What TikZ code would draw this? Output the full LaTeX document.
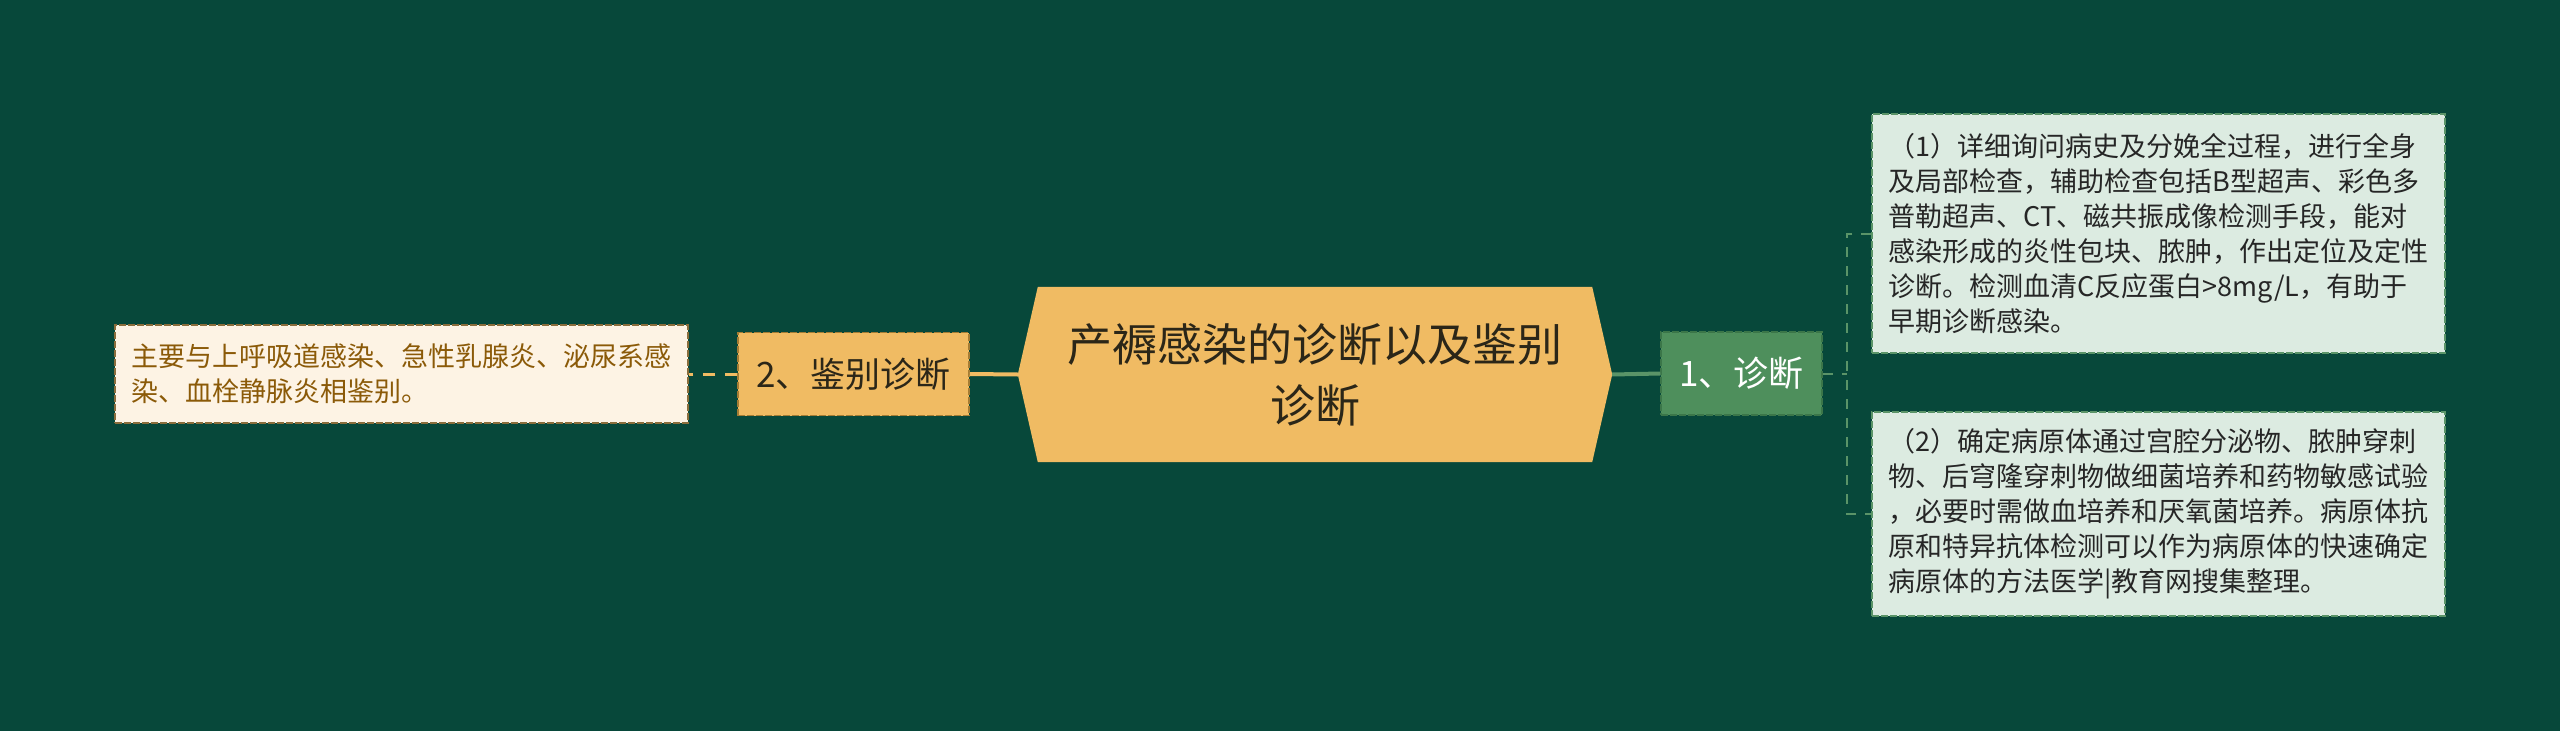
\documentclass[tikz,border=0pt]{standalone}
\usepackage{fontspec}
\setmainfont{Noto Sans CJK SC}
\usetikzlibrary{positioning,backgrounds}
\definecolor{bgcol}{HTML}{07483A}
\definecolor{titlefill}{HTML}{F0BB63}
\definecolor{titletext}{HTML}{2B2618}
\definecolor{diagfill}{HTML}{4E8F5C}
\definecolor{diagline}{HTML}{3B7649}
\definecolor{boxfill}{HTML}{DCEBE1}
\definecolor{boxline}{HTML}{5A9468}
\definecolor{leftfill}{HTML}{FDF3E4}
\definecolor{leftline}{HTML}{8A6D3B}
\definecolor{lefttext}{HTML}{8B5A08}
\definecolor{identline}{HTML}{A47C34}
\begin{document}
\begin{tikzpicture}[x=1pt,y=-1pt,
	every node/.style={inner sep=0pt},
	title/.style={minimum width=594pt, minimum height=175pt, align=center, text=titletext, font=\fontsize{45}{61}\selectfont},
	branch/.style={minimum height=83pt, line width=1.5pt, dash pattern=on 7pt off 2pt, font=\fontsize{35}{42}\selectfont},
	leaf/.style={minimum width=573pt, inner xsep=15pt, align=left, line width=1.5pt, dash pattern=on 7pt off 2pt, font=\fontsize{27}{35}\selectfont},
	greenlink/.style={draw=boxline, line width=2pt},
	orangelink/.style={draw=titlefill, line width=3pt}
	]
	\useasboundingbox (0,0) rectangle (2560,731);
	\begin{scope}[on background layer]
		\fill[bgcol] (0,0) rectangle (2560,731);
	\end{scope}
	% centre
	\node [title] (title) at (1315,374.5) {产褥感染的诊断以及鉴别\\诊断};
	\begin{scope}[on background layer]
		\fill[titlefill] ([xshift=20pt]title.north west) -- ([xshift=-20pt]title.north east) -- (title.east)
			-- ([xshift=-20pt]title.south east) -- ([xshift=20pt]title.south west) -- (title.west) -- cycle;
	\end{scope}
	% right side
	\node [branch, fill=diagfill, draw=diagline, text=white, minimum width=161pt] (diag) at (1741.5,373.5) {1、诊断};
	\node [leaf, fill=boxfill, draw=boxline, text=black!85, minimum height=239pt] (box1) at (2158.5,233.5) {（1）详细询问病史及分娩全过程，进行全身\\及局部检查，辅助检查包括B型超声、彩色多\\普勒超声、CT、磁共振成像检测手段，能对\\感染形成的炎性包块、脓肿，作出定位及定性\\诊断。检测血清C反应蛋白>8mg/L，有助于\\早期诊断感染。};
	\node [leaf, fill=boxfill, draw=boxline, text=black!85, minimum height=204pt] (box2) at (2158.5,514) {（2）确定病原体通过宫腔分泌物、脓肿穿刺\\物、后穹隆穿刺物做细菌培养和药物敏感试验\\，必要时需做血培养和厌氧菌培养。病原体抗\\原和特异抗体检测可以作为病原体的快速确定\\病原体的方法医学|教育网搜集整理。};
	\coordinate (fork) at (1847,373.5);
	\draw [greenlink, line width=4pt] (title.east) -- (diag.west);
	\draw [greenlink, dash pattern=on 10pt off 9pt] (diag.east) -- (fork);
	\draw [greenlink, dash pattern=on 10pt off 9pt] (box1.west) -| (fork) |- (box2.west);
	% left side
	\node [branch, fill=titlefill, draw=identline, text=titletext, minimum width=231pt] (ident) at (853.5,374) {2、鉴别诊断};
	\node [leaf, fill=leftfill, draw=leftline, text=lefttext, minimum height=98pt] (lbox) at (401.5,374) {主要与上呼吸道感染、急性乳腺炎、泌尿系感\\染、血栓静脉炎相鉴别。};
	\draw [orangelink, line width=4pt] (title.west) -- (ident.east);
	\draw [orangelink, dash pattern=on 12pt off 10pt] (ident.west) -- (lbox.east);
\end{tikzpicture}
\end{document}
